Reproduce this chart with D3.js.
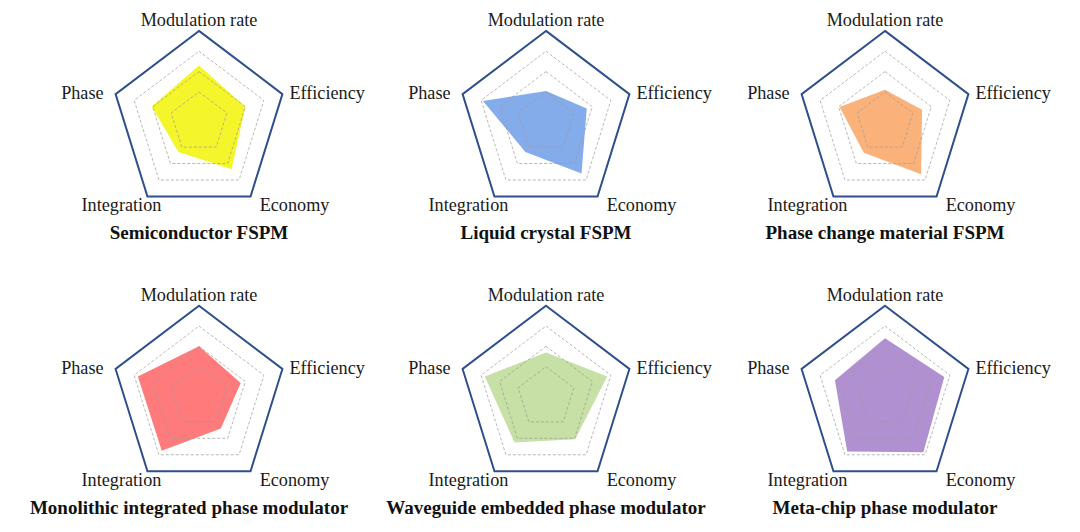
<!DOCTYPE html>
<html>
<head>
<meta charset="utf-8">
<script src="https://cdn.jsdelivr.net/npm/d3@7/dist/d3.min.js"></script>
<style>
  html, body { margin: 0; padding: 0; background: #fff; }
  svg { display: block; }
  .axisLabel { font-family: "Liberation Serif", "Times New Roman", serif; font-size: 18.2px; fill: #1a1a1a; }
  .title { font-family: "Liberation Serif", "Times New Roman", serif; font-size: 19px; font-weight: bold; fill: #111; }
</style>
</head>
<body>
<svg id="chart" width="1080" height="532"></svg>
<script>
/* ---------- Data ---------- */
const axes = ["Modulation rate", "Efficiency", "Economy", "Integration", "Phase"];
const titles = [
  "Semiconductor FSPM",
  "Liquid crystal FSPM",
  "Phase change material FSPM",
  "Monolithic integrated phase modulator",
  "Waveguide embedded phase modulator",
  "Meta-chip phase modulator"
];
// scores per axis, same order as axes
const semiconductor   = [2.8, 2.5, 2.85, 1.8, 2.55];
const liquidCrystal   = [1.55, 2.2, 3.1, 1.8, 3.4];
const phaseChange     = [1.6, 2.0, 3.15, 1.85, 2.45];
const monolithic      = [2.5, 2.25, 1.9, 3.25, 3.3];
const waveguide       = [2.2, 3.3, 2.55, 2.75, 3.3];
const metaChip        = [2.9, 3.2, 3.35, 3.3, 2.7];
const series = [semiconductor, liquidCrystal, phaseChange, monolithic, waveguide, metaChip];
const fillColors = ["#f5f52c", "#84acea", "#fab27a", "#ff7a7a", "#c6e0a5", "#b190d1"];
const ringLevels = [1.5, 2.5, 3.5, 4.5];
const maxValue = 4.5;

/* ---------- Layout ---------- */
const svg = d3.select("#chart");
const colX = [199, 546, 885];
const rowY = [122.4, 397.2];
const rx = 87.7, ry = 91.5;

const rX = d3.scaleLinear().domain([0, maxValue]).range([0, rx]);
const rY = d3.scaleLinear().domain([0, maxValue]).range([0, ry]);
const angle = d3.scalePoint().domain(axes).range([0, 2 * Math.PI * 4 / 5]);

// label placement relative to each outer vertex
const labelPos = {
  "Modulation rate": {dx: 0,   dy: -5, anchor: "middle"},
  "Efficiency":      {dx: 7,   dy: 5,  anchor: "start"},
  "Economy":         {dx: 44,  dy: 15, anchor: "middle"},
  "Integration":     {dx: -26, dy: 15, anchor: "middle"},
  "Phase":           {dx: -12, dy: 5,  anchor: "end"}
};

const pt = (cx, cy, axis, v) => {
  const a = angle(axis);
  return [cx + rX(v) * Math.sin(a), cy - rY(v) * Math.cos(a)];
};
const closed = d3.line().curve(d3.curveLinearClosed);

series.forEach((vals, i) => {
  const cx = colX[i % 3], cy = rowY[Math.floor(i / 3)];
  const g = svg.append("g");

  // data polygon
  g.append("path")
    .attr("d", closed(axes.map((ax, k) => pt(cx, cy, ax, vals[k]))))
    .attr("fill", fillColors[i]);

  // dashed inner rings
  g.selectAll("path.ring")
    .data(ringLevels.slice(0, -1))
    .join("path")
    .attr("class", "ring")
    .attr("d", lv => closed(axes.map(ax => pt(cx, cy, ax, lv))))
    .attr("fill", "none")
    .attr("stroke", "#9a9a9a")
    .attr("stroke-opacity", 0.7)
    .attr("stroke-width", 1)
    .attr("stroke-dasharray", "3,2");

  // outer pentagon
  g.append("path")
    .attr("d", closed(axes.map(ax => pt(cx, cy, ax, maxValue))))
    .attr("fill", "none")
    .attr("stroke", "#2e4f8c")
    .attr("stroke-width", 2)
    .attr("stroke-linejoin", "miter");

  // axis labels
  axes.forEach(ax => {
    const [x, y] = pt(cx, cy, ax, maxValue);
    const p = labelPos[ax];
    g.append("text")
      .attr("class", "axisLabel")
      .attr("x", x + p.dx)
      .attr("y", y + p.dy)
      .attr("text-anchor", p.anchor)
      .text(ax);
  });

  // title
  g.append("text")
    .attr("class", "title")
    .attr("x", cx - (i === 3 ? 10 : 0))
    .attr("y", cy + ry * 0.809 + 43)
    .attr("text-anchor", "middle")
    .text(titles[i]);
});
</script>
</body>
</html>
